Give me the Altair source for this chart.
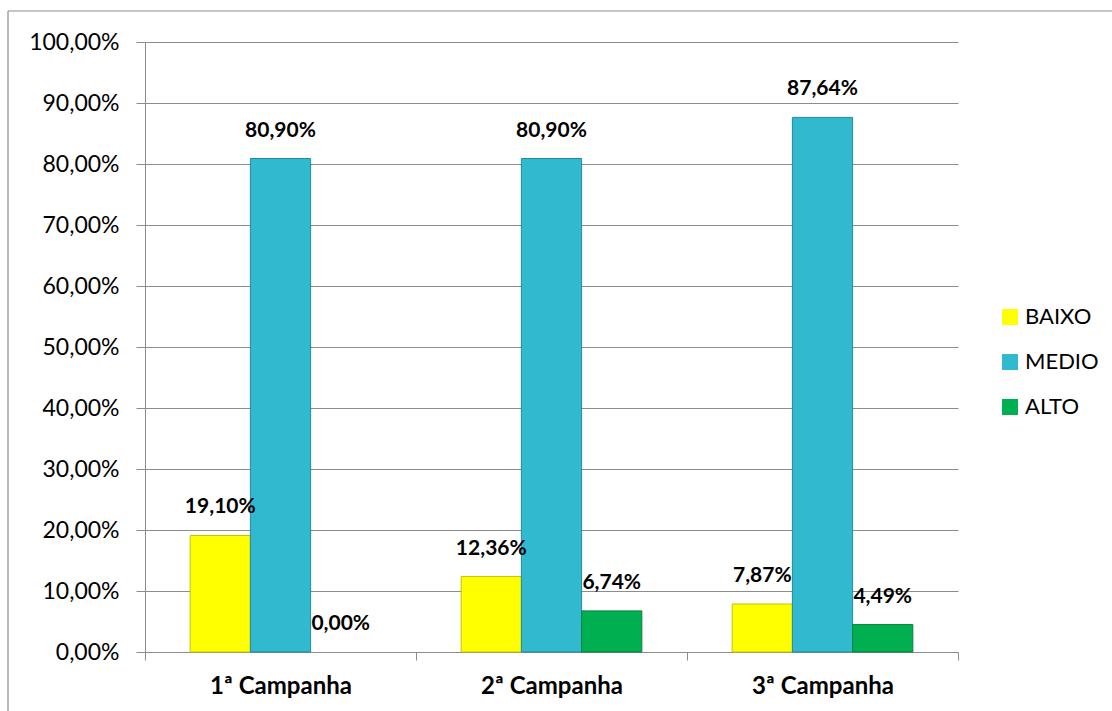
import altair as alt
import pandas as pd

categories = ["1ª Campanha", "2ª Campanha", "3ª Campanha"]
series = ["BAIXO", "MEDIO", "ALTO"]
baixo = [0.1910, 0.1236, 0.0787]
medio = [0.8090, 0.8090, 0.8764]
alto = [0.0000, 0.0674, 0.0449]
colors = ["#FFFF00", "#31B9CF", "#00B050"]
edge_colors = ["#C4C400", "#23899A", "#00803E"]
y_ticks = [0.0, 0.1, 0.2, 0.3, 0.4, 0.5, 0.6, 0.7, 0.8, 0.9, 1.0]

rows = []
for s, vals in zip(series, [baixo, medio, alto]):
    for c, v in zip(categories, vals):
        rows.append({"categoria": c, "serie": s, "valor": v})
df = pd.DataFrame(rows)

FONT = "Lato"
GRID = "#8C8C8C"

x_enc = alt.X("categoria:N", sort=categories, title=None,
              scale=alt.Scale(domain=categories, paddingInner=0, paddingOuter=0),
              axis=alt.Axis(labelAngle=0, labelFont=FONT, labelFontSize=24,
                            labelFontWeight="bold", labelColor="#000000",
                            tickBand="extent", tickSize=8, tickColor=GRID,
                            domainColor=GRID, labelPadding=14, grid=False))
xoff = alt.XOffset("serie:N", sort=series,
                   scale=alt.Scale(domain=series, paddingOuter=0.75, paddingInner=0))
y_enc = alt.Y("valor:Q", title=None,
              scale=alt.Scale(domain=[0, 1], nice=False),
              axis=alt.Axis(values=y_ticks,
                            labelExpr="replace(format(datum.value, '.2%'), '.', ',')",
                            labelFont=FONT, labelFontSize=23, labelColor="#000000",
                            tickSize=9, tickColor=GRID, domainColor=GRID,
                            gridColor=GRID, labelPadding=17))

base = alt.Chart(df)

bars = base.transform_filter("datum.valor > 0").mark_bar(strokeWidth=1).encode(
    x=x_enc,
    xOffset=xoff,
    y=y_enc,
    color=alt.Color("serie:N", sort=series,
                    scale=alt.Scale(domain=series, range=colors),
                    legend=alt.Legend(title=None, orient="none", legendX=854, legendY=264,
                                      symbolType="square", symbolSize=256,
                                      symbolStrokeWidth=0, labelFont=FONT,
                                      labelFontSize=22, labelColor="#000000",
                                      rowPadding=23, labelOffset=4)),
    stroke=alt.Stroke("serie:N", sort=series,
                      scale=alt.Scale(domain=series, range=edge_colors), legend=None),
)

labels = base.transform_calculate(
    rotulo="replace(format(datum.valor, '.2%'), '.', ',')"
).mark_text(font=FONT, fontSize=21, fontWeight="bold", color="#000000",
            baseline="middle", align="center", dy=-28).encode(
    x=alt.X("categoria:N", sort=categories),
    xOffset=xoff,
    y=alt.Y("valor:Q"),
    text="rotulo:N",
)

frame_df = pd.DataFrame({"k": [0]})
left_border = alt.Chart(frame_df).mark_rule(color="#8C8C8C", strokeWidth=1.2).encode(
    x=alt.value(-137), y=alt.value(-31), y2=alt.value(700))
top_border = alt.Chart(frame_df).mark_rule(color="#8C8C8C", strokeWidth=1.2).encode(
    y=alt.value(-31), x=alt.value(-137), x2=alt.value(1000))

chart = alt.layer(bars, labels, left_border, top_border).properties(
    width=813, height=610,
    autosize=alt.AutoSizeParams(type="none"),
    padding={"left": 145, "top": 42, "right": 154, "bottom": 59},
    background="#FFFFFF",
).configure_view(stroke=None)

chart.save("out.html", embed_options={"renderer": "svg", "actions": False})
